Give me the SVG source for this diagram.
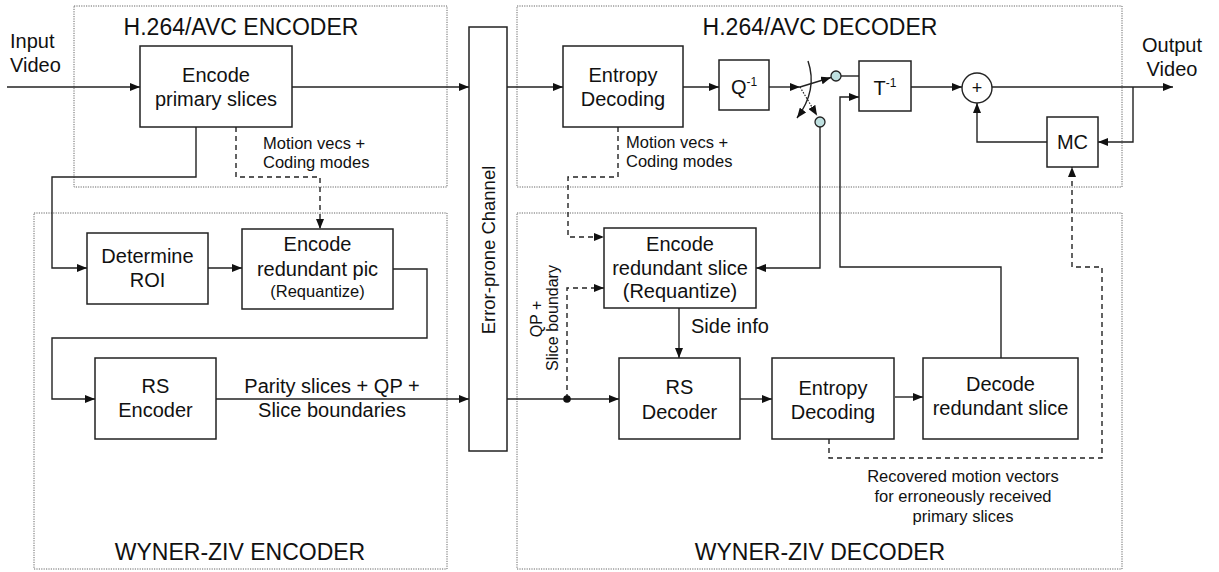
<svg xmlns="http://www.w3.org/2000/svg" width="1219" height="572" viewBox="0 0 1219 572">
  <style>
    .region { fill: none; stroke: #666; stroke-width: 1; stroke-dasharray: 1.2 1.2; }
    .box { fill: #fff; stroke: #222; stroke-width: 1.5; }
    .wire { fill: none; stroke: #222; stroke-width: 1.4; }
    .dash { fill: none; stroke: #222; stroke-width: 1.4; stroke-dasharray: 5 4; }
    .dot { fill: none; stroke: #222; stroke-width: 1.2; stroke-dasharray: 1.5 1.5; }
    .port { fill: #bfe0e0; stroke: #222; stroke-width: 1.3; }
    text { font-family: "Liberation Sans", Arial, sans-serif; fill: #111; }
    .t20 { font-size: 20px; text-anchor: middle; }
    .t16 { font-size: 16.5px; }
    .title { font-size: 23px; text-anchor: middle; }
  </style>
  <defs>
    <marker id="arrow" viewBox="0 0 10 8" refX="10" refY="4" markerWidth="10" markerHeight="8" markerUnits="userSpaceOnUse" orient="auto">
      <path d="M0,0 L10,4 L0,8 z" fill="#111"/>
    </marker>
  </defs>

  <rect width="1219" height="572" fill="#fff"/>

  <!-- functional regions -->
  <g id="regions">
    <rect class="region" x="74" y="6" width="373" height="181"/>
    <rect class="region" x="34" y="213" width="413" height="356"/>
    <rect class="region" x="517" y="6" width="605" height="181"/>
    <rect class="region" x="517" y="213" width="605" height="356"/>
    <text class="title" x="241" y="35">H.264/AVC ENCODER</text>
    <text class="title" x="820" y="35">H.264/AVC DECODER</text>
    <text class="title" x="240" y="560">WYNER-ZIV ENCODER</text>
    <text class="title" x="820" y="560">WYNER-ZIV DECODER</text>
  </g>

  <!-- connectors -->
  <g id="connectors">
    <path class="wire" d="M7,87 H140" marker-end="url(#arrow)"/>
    <path class="wire" d="M292,87 H469" marker-end="url(#arrow)"/>
    <path class="wire" d="M507,87 H563" marker-end="url(#arrow)"/>
    <path class="wire" d="M683,87 H719" marker-end="url(#arrow)"/>
    <path class="wire" d="M769,87 H800" marker-end="url(#arrow)"/>
    <path class="wire" d="M800,87 L831,77.5" marker-end="url(#arrow)"/>
    <path class="dot" d="M800,87 L817,115.5" marker-end="url(#arrow)"/>
    <path class="wire" d="M808,61 Q818,90 797,118" marker-end="url(#arrow)"/>
    <path class="wire" d="M841,76 H859"/>
    <path class="wire" d="M911,87 H962" marker-end="url(#arrow)"/>
    <path class="wire" d="M992,87 H1173" marker-end="url(#arrow)"/>
    <path class="wire" d="M1133,87 V142 H1098" marker-end="url(#arrow)"/>
    <path class="wire" d="M1047,142 H977 V103" marker-end="url(#arrow)"/>
    <path class="wire" d="M820,127 V268 H756" marker-end="url(#arrow)"/>
    <path class="wire" d="M1001,358 V267 H840 V97 H859" marker-end="url(#arrow)"/>
    <path class="dash" d="M618,127 V177 H568 V237 H604" marker-end="url(#arrow)"/>
    <path class="wire" d="M507,399 H619" marker-end="url(#arrow)"/>
    <path class="dash" d="M567,399 V288 H604" marker-end="url(#arrow)"/>
    <circle cx="567" cy="399" r="3.8" fill="#111"/>
    <path class="wire" d="M679,308 V358" marker-end="url(#arrow)"/>
    <path class="wire" d="M740,399 H772" marker-end="url(#arrow)"/>
    <path class="wire" d="M895,397 H923" marker-end="url(#arrow)"/>
    <path class="dash" d="M829,439 V458 H1102 V267 H1072 V167" marker-end="url(#arrow)"/>
    <path class="wire" d="M196,127 V177 H52 V268 H87" marker-end="url(#arrow)"/>
    <path class="dash" d="M236,127 V177 H320 V229" marker-end="url(#arrow)"/>
    <path class="wire" d="M208,268 H242" marker-end="url(#arrow)"/>
    <path class="wire" d="M393,269 H427 V338 H52 V399 H95" marker-end="url(#arrow)"/>
    <path class="wire" d="M216,399 H469" marker-end="url(#arrow)"/>
    <circle class="port" cx="836" cy="76" r="5"/>
    <circle class="port" cx="820" cy="122" r="5"/>
  </g>

  <!-- free labels -->
  <g id="labels">
    <text class="t20" x="10" y="48" style="text-anchor:start">Input</text>
    <text class="t20" x="10" y="72" style="text-anchor:start">Video</text>
    <text class="t20" x="1172" y="52">Output</text>
    <text class="t20" x="1172" y="76">Video</text>
    <text class="t16" x="263" y="149">Motion vecs +</text>
    <text class="t16" x="263" y="168">Coding modes</text>
    <text class="t16" x="626" y="148">Motion vecs +</text>
    <text class="t16" x="626" y="167">Coding modes</text>
    <text class="t20" x="332" y="393">Parity slices + QP +</text>
    <text class="t20" x="332" y="417">Slice boundaries</text>
    <text class="t20" x="691" y="333" style="text-anchor:start">Side info</text>
    <text style="font-size:16px;text-anchor:middle" transform="translate(542,319) rotate(-90)">QP +</text>
    <text style="font-size:16px;text-anchor:middle" transform="translate(558,318) rotate(-90)">Slice boundary</text>
    <text class="t16" x="963" y="482" style="text-anchor:middle">Recovered motion vectors</text>
    <text class="t16" x="963" y="502" style="text-anchor:middle">for erroneously received</text>
    <text class="t16" x="963" y="522" style="text-anchor:middle">primary slices</text>
  </g>

  <!-- encoder blocks -->
  <g id="encode-primary">
    <rect class="box" x="140" y="46" width="152" height="81"/>
    <text class="t20" x="216" y="82">Encode</text>
    <text class="t20" x="216" y="106">primary slices</text>
  </g>
  <g id="determine-roi">
    <rect class="box" x="87" y="233" width="121" height="71"/>
    <text class="t20" x="147.5" y="263">Determine</text>
    <text class="t20" x="147.5" y="287">ROI</text>
  </g>
  <g id="encode-redundant-pic">
    <rect class="box" x="242" y="229" width="151" height="80"/>
    <text class="t20" x="317.5" y="251">Encode</text>
    <text class="t20" x="317.5" y="276">redundant pic</text>
    <text class="t16" x="317.5" y="297" style="text-anchor:middle">(Requantize)</text>
  </g>
  <g id="rs-encoder">
    <rect class="box" x="95" y="358" width="121" height="81"/>
    <text class="t20" x="155.5" y="393">RS</text>
    <text class="t20" x="155.5" y="417">Encoder</text>
  </g>

  <!-- channel -->
  <g id="channel">
    <rect class="box" x="469" y="27" width="38" height="424"/>
    <text style="font-size:18.5px;text-anchor:middle" transform="translate(495,250) rotate(-90)">Error-prone Channel</text>
  </g>

  <!-- decoder blocks -->
  <g id="entropy-decoding">
    <rect class="box" x="563" y="46" width="120" height="81"/>
    <text class="t20" x="623" y="82">Entropy</text>
    <text class="t20" x="623" y="106">Decoding</text>
  </g>
  <g id="inverse-quant">
    <rect class="box" x="719" y="60" width="50" height="50"/>
    <text class="t20" x="744" y="94">Q<tspan dy="-8" style="font-size:12px">-1</tspan></text>
  </g>
  <g id="inverse-transform">
    <rect class="box" x="859" y="61" width="52" height="50"/>
    <text class="t20" x="885" y="95">T<tspan dy="-8" style="font-size:12px">-1</tspan></text>
  </g>
  <g id="adder">
    <circle cx="977" cy="88" r="15" fill="#fff" stroke="#222" stroke-width="1.4"/>
    <text x="977" y="94" style="font-size:18px;text-anchor:middle">+</text>
  </g>
  <g id="motion-comp">
    <rect class="box" x="1047" y="117" width="51" height="50"/>
    <text class="t20" x="1072.5" y="149">MC</text>
  </g>
  <g id="encode-redundant-slice">
    <rect class="box" x="604" y="228" width="152" height="80"/>
    <text class="t20" x="680" y="251">Encode</text>
    <text class="t20" x="680" y="275">redundant slice</text>
    <text class="t20" x="680" y="298">(Requantize)</text>
  </g>
  <g id="rs-decoder">
    <rect class="box" x="619" y="358" width="121" height="81"/>
    <text class="t20" x="679.5" y="394">RS</text>
    <text class="t20" x="679.5" y="419">Decoder</text>
  </g>
  <g id="wz-entropy-decoding">
    <rect class="box" x="772" y="358" width="122" height="81"/>
    <text class="t20" x="833" y="395">Entropy</text>
    <text class="t20" x="833" y="419">Decoding</text>
  </g>
  <g id="decode-redundant-slice">
    <rect class="box" x="923" y="358" width="155" height="81"/>
    <text class="t20" x="1000.5" y="391">Decode</text>
    <text class="t20" x="1000.5" y="415">redundant slice</text>
  </g>
</svg>
